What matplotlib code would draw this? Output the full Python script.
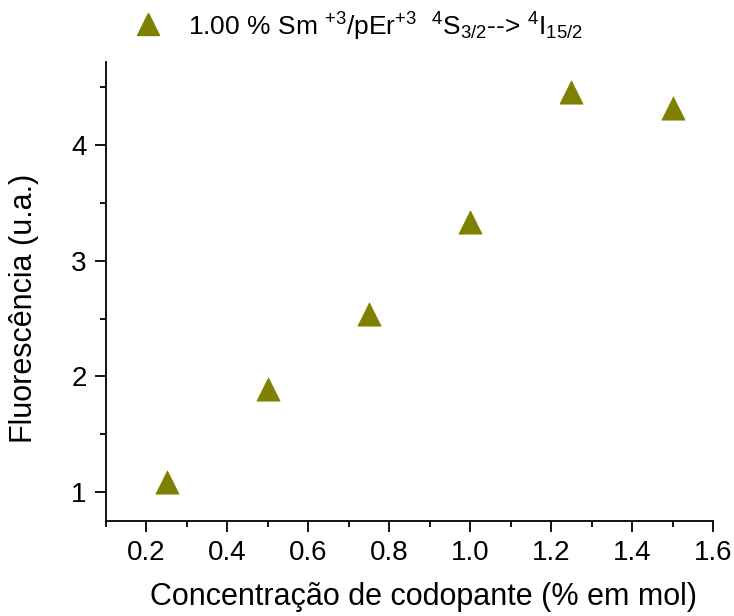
import matplotlib
matplotlib.use("Agg")
import matplotlib.pyplot as plt
from matplotlib.ticker import MultipleLocator

plt.rcParams["font.family"] = ["Liberation Sans", "DejaVu Sans"]
plt.rcParams["mathtext.fontset"] = "custom"
plt.rcParams["mathtext.rm"] = "Liberation Sans"
plt.rcParams["mathtext.it"] = "Liberation Sans"

conc = [0.25, 0.50, 0.75, 1.00, 1.25, 1.50]
fluor = [1.09, 1.89, 2.54, 3.34, 4.46, 4.32]
x_ticks = [0.2, 0.4, 0.6, 0.8, 1.0, 1.2, 1.4, 1.6]
y_ticks = [1, 2, 3, 4]
series_label = r"1.00 % Sm $^{+3}$/pEr$^{+3}$  $^{4}$S$_{3/2}$--> $^{4}$I$_{15/2}$"

olive = "#808000"

fig = plt.figure(figsize=(7.34, 6.16), dpi=100, facecolor="white")
ax = fig.add_axes([0.1444, 0.1542, 0.8270, 0.7452])

ax.scatter(conc, fluor, marker="^", s=280, c=olive, edgecolors=olive, linewidths=0.5, zorder=3)

ax.set_xlim(0.1, 1.6)
ax.set_ylim(0.75, 4.72)
ax.set_xticks(x_ticks)
ax.set_xticklabels([f"{v:.1f}" for v in x_ticks])
ax.set_yticks(y_ticks)
ax.set_yticklabels([str(v) for v in y_ticks])
ax.xaxis.set_minor_locator(MultipleLocator(0.1))
ax.yaxis.set_minor_locator(MultipleLocator(0.5))

for side in ("top", "right"):
    ax.spines[side].set_visible(False)
for side in ("left", "bottom"):
    ax.spines[side].set_linewidth(1.3)

ax.tick_params(which="major", direction="out", length=8, width=1.3, labelsize=20, pad=6)
ax.tick_params(which="minor", direction="out", length=4, width=1.3)

ax.set_xlabel("Concentração de codopante (% em mol)", fontsize=22, va="center")
ax.set_ylabel("Fluorescência (u.a.)", fontsize=22, va="center")
ax.xaxis.set_label_coords(0.523, -0.166)
ax.yaxis.set_label_coords(-0.135, 0.464)

# series key above the plot
fig.lines.append(plt.Line2D([148 / 734], [1 - 24 / 616], transform=fig.transFigure,
                            marker="^", markersize=16, color=olive, ls="none"))
fig.text(188 / 734, 1 - 27 / 616, series_label, fontsize=19, va="center", ha="left")

fig.savefig("out.png", dpi=100, facecolor="white")
